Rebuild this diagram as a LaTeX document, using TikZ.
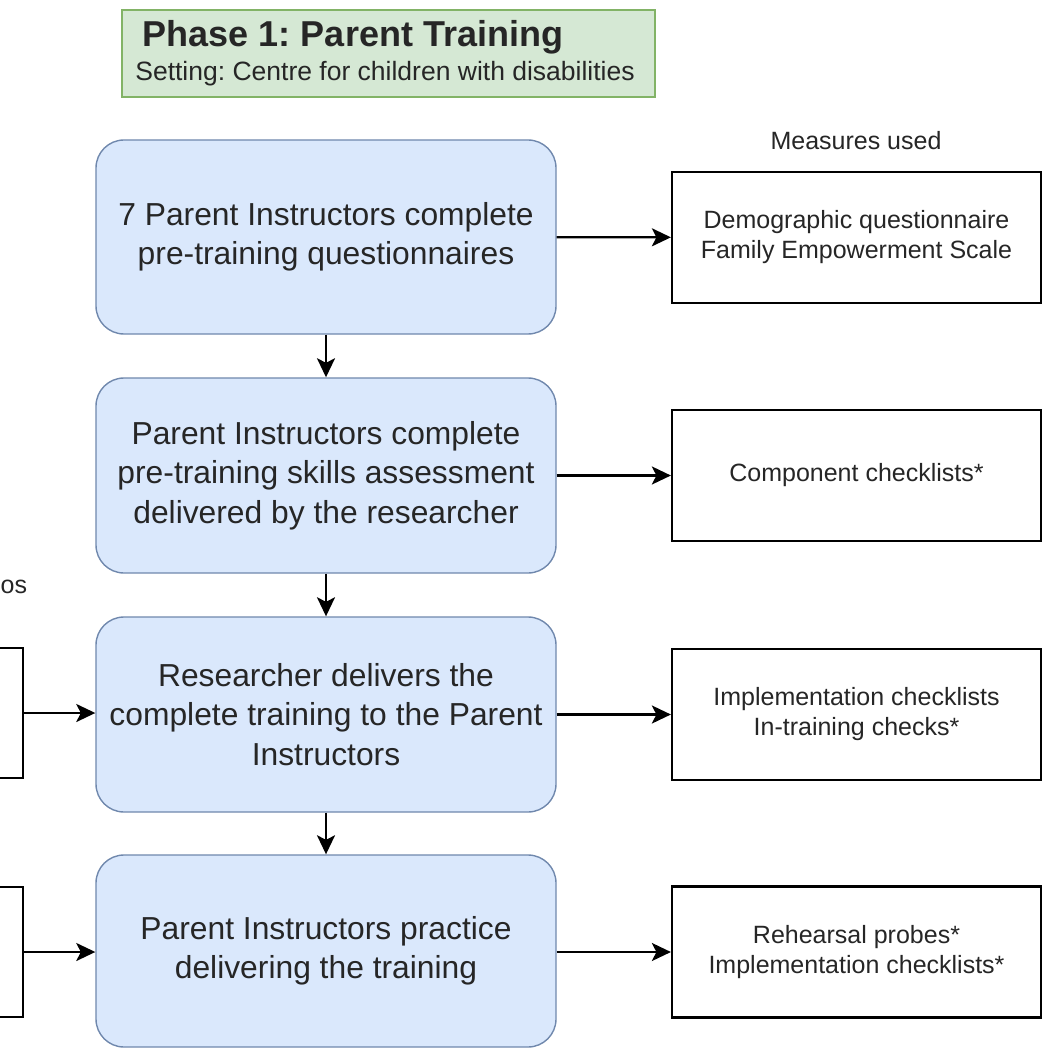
\documentclass[tikz,border=0pt]{standalone}
\usepackage{fontspec}
\setmainfont{Liberation Sans}
\usetikzlibrary{arrows.meta}
\definecolor{bluefill}{HTML}{DAE8FC}
\definecolor{blueline}{HTML}{7088AD}
\definecolor{greenfill}{HTML}{D5E8D4}
\definecolor{greenline}{HTML}{82B366}
\definecolor{txt}{HTML}{262626}
\frenchspacing
\tikzset{
  stagebox/.style={draw=blueline, line width=1.4pt, fill=bluefill, rounded corners=28pt,
    minimum width=460pt, align=center, text=txt, inner sep=0pt,
    font=\fontsize{31.8}{39.5}\selectfont},
  measurebox/.style={draw=black, line width=2.2pt, fill=white, minimum width=369pt,
    minimum height=131pt, align=center, text=txt, inner sep=0pt,
    font=\fontsize{25}{30}\selectfont},
  cutbox/.style={draw=black, line width=2.2pt, fill=white, minimum width=90pt,
    minimum height=130pt, inner sep=0pt},
  flow/.style={draw=black, line width=2.2pt, -{Stealth[length=19pt,width=18pt,inset=4.5pt]}},
}
\begin{document}
\begin{tikzpicture}[x=1pt,y=-1pt]
\clip (0,0) rectangle (1046,1048);
\fill[white] (0,0) rectangle (1046,1048);
% title
\node[draw=greenline, line width=1.2pt, fill=greenfill, minimum width=533pt, minimum height=87pt, inner sep=0pt] (title) at (388.5,53.5) {};
\node[font=\fontsize{36}{40}\selectfont\bfseries, text=black!85, inner sep=0pt] (titletext) at (353,37) {Phase 1: Parent Training};
\node[font=\fontsize{26.5}{30}\selectfont, text=txt, inner sep=0pt] (subtitle) at (385,74) {Setting: Centre for children with disabilities};
% stages
\node[stagebox, minimum height=194pt] (b1) at (326,237) {7 Parent Instructors complete\\pre-training questionnaires};
\node[stagebox, minimum height=195pt] (b2) at (326,475.5) {Parent Instructors complete\\pre-training skills assessment\\delivered by the researcher};
\node[stagebox, minimum height=195pt] (b3) at (326,714.5) {Researcher delivers the\\complete training to the Parent\\Instructors};
\node[stagebox, minimum height=192pt] (b4) at (326,951) {Parent Instructors practice\\delivering the training};
% measures
\node[font=\fontsize{25}{30}\selectfont, text=txt, inner sep=0pt] (mhead) at (856,141) {Measures used};
\node[measurebox] (r1) at (856.5,237.5) {Demographic questionnaire\\Family Empowerment Scale};
\node[measurebox] (r2) at (856.5,475.5) {Component checklists*};
\node[measurebox] (r3) at (856.5,714.5) {Implementation checklists\\In-training checks*};
\node[measurebox] (r4) at (856.5,952) {Rehearsal probes*\\Implementation checklists*};
% left (cut off)
\node[font=\fontsize{25}{30}\selectfont, text=txt, inner sep=0pt, anchor=west] (lhead) at (0.5,587) {os};
\node[cutbox] (l1) at (-22,713) {};
\node[cutbox] (l2) at (-22,952) {};
% connectors
\draw[flow] (b1) -- (b2);
\draw[flow] (b2) -- (b3);
\draw[flow] (b3) -- (b4);
\draw[flow] (b1) -- (r1);
\draw[flow] (b2) -- (r2);
\draw[flow] (b3) -- (r3);
\draw[flow] (b4.east |- r4.west) -- (r4.west);
\draw[flow] (l1.east) -- (l1.east -| b3.west);
\draw[flow] (l2.east) -- (l2.east -| b4.west);
\end{tikzpicture}
\end{document}
